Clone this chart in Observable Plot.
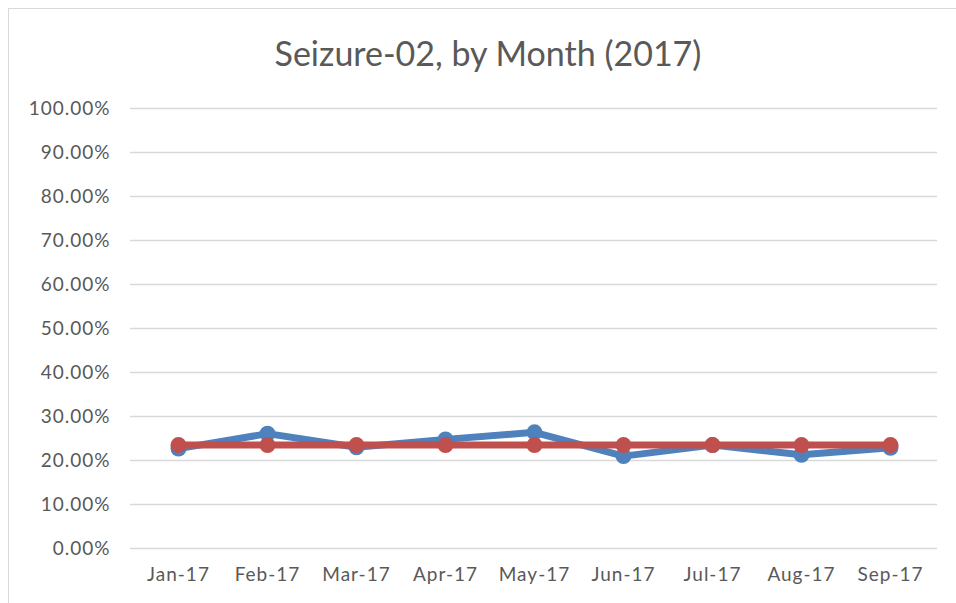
<!DOCTYPE html>
<html>
<head>
<meta charset="utf-8">
<script src="https://cdn.jsdelivr.net/npm/d3@7"></script>
<script src="https://cdn.jsdelivr.net/npm/@observablehq/plot@0.6"></script>
<style>
  html, body { margin: 0; padding: 0; background: #fff; }
  body { width: 956px; height: 603px; overflow: hidden; position: relative; font-family: Lato, "Open Sans", sans-serif; }
  #frame { position: absolute; left: 8px; top: 8px; width: 1000px; height: 700px; border: 1px solid #d9d9d9; box-sizing: border-box; }
  #title { position: absolute; left: 0; top: 32px; width: 976px; text-align: center; font-size: 34px; color: #595959; line-height: 42px; }
  #chart { position: absolute; left: 0; top: 85px; }
  #chart svg text { letter-spacing: 1px; }
</style>
</head>
<body>
<div id="frame"></div>
<div id="title">Seizure-02, by Month (2017)</div>
<div id="chart"></div>
<script>
const months = ["Jan-17","Feb-17","Mar-17","Apr-17","May-17","Jun-17","Jul-17","Aug-17","Sep-17"];
const actual = [0.227, 0.261, 0.230, 0.248, 0.264, 0.210, 0.235, 0.213, 0.229];
const average = [0.235, 0.235, 0.235, 0.235, 0.235, 0.235, 0.235, 0.235, 0.235];
const yTicks = [0,0.1,0.2,0.3,0.4,0.5,0.6,0.7,0.8,0.9,1.0];

const blueData = months.map((m, i) => ({month: m, value: actual[i]}));
const redData = months.map((m, i) => ({month: m, value: average[i]}));

const plot = Plot.plot({
  width: 956,
  height: 518,
  marginTop: 23,
  marginBottom: 55,
  marginLeft: 130,
  marginRight: 19,
  style: {fontFamily: "Lato, 'Open Sans', sans-serif", fontSize: "19px", color: "#595959", background: "transparent"},
  x: {type: "point", domain: months, padding: 0.5, label: null},
  y: {domain: [0, 1], label: null},
  marks: [
    Plot.ruleY(yTicks, {stroke: "#d9d9d9", strokeWidth: 1.5, strokeOpacity: 1}),
    Plot.axisY({ticks: yTicks, tickFormat: d => (d*100).toFixed(2) + "%", tickSize: 0, tickPadding: 20, label: null, fill: "#595959"}),
    Plot.axisX({tickSize: 0, tickPadding: 19, label: null, fill: "#595959"}),
    Plot.line(blueData, {x: "month", y: "value", stroke: "#4f81bd", strokeWidth: 7, strokeLinejoin: "round", strokeLinecap: "round"}),
    Plot.dot(blueData, {x: "month", y: "value", r: 8, fill: "#4f81bd", stroke: "none"}),
    Plot.line(redData, {x: "month", y: "value", stroke: "#c0504d", strokeWidth: 7, strokeLinejoin: "round", strokeLinecap: "round"}),
    Plot.dot(redData, {x: "month", y: "value", r: 8, fill: "#c0504d", stroke: "none"})
  ]
});
document.getElementById("chart").appendChild(plot);
</script>
</body>
</html>
